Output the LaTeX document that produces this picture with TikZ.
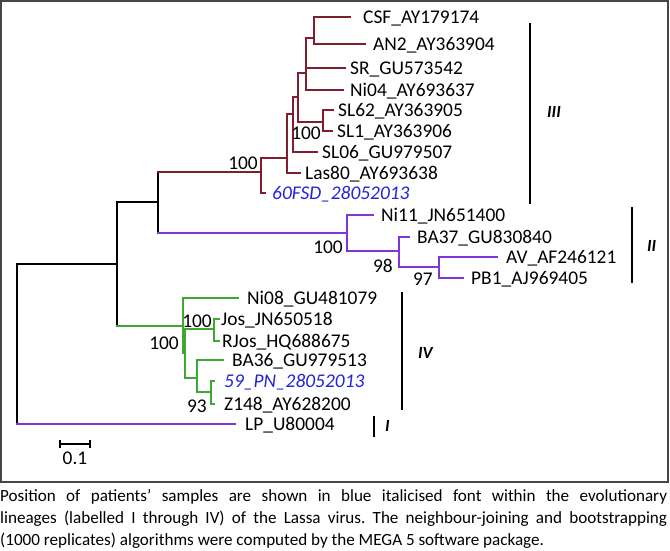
\documentclass[tikz,border=0pt]{standalone}
\usepackage{fontspec}
\setmainfont{Carlito}
\definecolor{mred}{RGB}{128,30,48}
\definecolor{mpur}{RGB}{125,55,215}
\definecolor{mgrn}{RGB}{60,170,50}
\definecolor{mblu}{RGB}{35,35,215}
\definecolor{frm}{RGB}{70,70,70}
\newcommand\tedge[4]{\draw[br,#1] (#3) -- (#3|-#4); \draw[br,#2] (#3|-#4) -- (#4);}
\newcommand\fullline[1]{\hbox to 667pt{\frenchspacing\spaceskip=0.2em plus 1fil\relax #1}}
\begin{document}
\begin{tikzpicture}[x=1pt,y=-1pt,
  br/.style={line width=1.5pt, line cap=rect},
  leaf/.style={anchor=west, inner sep=0pt, text height=12.4pt, text depth=0pt, font=\fontsize{19.4}{21}\selectfont},
  pat/.style={leaf, text=mblu, font=\fontsize{19.4}{21}\selectfont\itshape},
  boot/.style={anchor=east, inner sep=0pt, text height=12.4pt, text depth=0pt, font=\fontsize{19.4}{21}\selectfont},
  clbar/.style={line width=2pt, black},
  cllab/.style={anchor=west, inner sep=0pt, text height=10.5pt, text depth=0pt, font=\fontsize{17}{19}\selectfont\bfseries\itshape},
]
\useasboundingbox (0,0) rectangle (670,551);
\draw[frm, line width=1.5pt] (1,1) rectangle (668,482);

% internal nodes
\coordinate (R) at (17,264);
\coordinate (n8) at (117,264);
\coordinate (n7) at (158,202);
\coordinate (n6) at (261,172);
\coordinate (n5) at (287,158);
\coordinate (n4) at (293,114);
\coordinate (n3) at (298,97);
\coordinate (n2) at (306,73);
\coordinate (n1) at (314,38);
\coordinate (nSL) at (323,122);
\coordinate (m1) at (347,233);
\coordinate (m2) at (399,251);
\coordinate (m3) at (439,267);
\coordinate (k1) at (183,326);
\coordinate (k2) at (185,353);
\coordinate (k3) at (214,329);
\coordinate (k4) at (197,378);
\coordinate (k5) at (211,392);
% leaf ends
\coordinate (eCSF) at (350,17);
\coordinate (eAN2) at (365,44);
\coordinate (eSR) at (345,68);
\coordinate (eNi04) at (343,90);
\coordinate (eSL62) at (333,110);
\coordinate (eSL1) at (332,131);
\coordinate (eSL06) at (317,152);
\coordinate (eLas) at (300,173);
\coordinate (eFSD) at (265,193);
\coordinate (eNi11) at (373,215);
\coordinate (eBA37) at (409,237);
\coordinate (eAV) at (497,257);
\coordinate (ePB1) at (463,278);
\coordinate (eNi08) at (238,298);
\coordinate (eJos) at (219,319);
\coordinate (eRJos) at (219,341);
\coordinate (eBA36) at (223,360);
\coordinate (ePN) at (214,381);
\coordinate (eZ) at (214,404);
\coordinate (eLP) at (235,424);

% edges
\tedge{black}{black}{R}{n8}
\tedge{black}{mpur}{R}{eLP}
\tedge{black}{black}{n8}{n7}
\tedge{black}{mgrn}{n8}{k1}
\tedge{black}{mred}{n7}{n6}
\tedge{black}{mpur}{n7}{m1}
\tedge{mred}{mred}{n6}{n5}
\tedge{mred}{mred}{n6}{eFSD}
\tedge{mred}{mred}{n5}{n4}
\tedge{mred}{mred}{n5}{eLas}
\tedge{mred}{mred}{n4}{n3}
\tedge{mred}{mred}{n4}{eSL06}
\tedge{mred}{mred}{n3}{n2}
\tedge{mred}{mred}{n3}{nSL}
\tedge{mred}{mred}{n2}{n1}
\tedge{mred}{mred}{n2}{eSR}
\tedge{mred}{mred}{n2}{eNi04}
\tedge{mred}{mred}{n1}{eCSF}
\tedge{mred}{mred}{n1}{eAN2}
\tedge{mred}{mred}{nSL}{eSL62}
\tedge{mred}{mred}{nSL}{eSL1}
\tedge{mpur}{mpur}{m1}{eNi11}
\tedge{mpur}{mpur}{m1}{m2}
\tedge{mpur}{mpur}{m2}{eBA37}
\tedge{mpur}{mpur}{m2}{m3}
\tedge{mpur}{mpur}{m3}{eAV}
\tedge{mpur}{mpur}{m3}{ePB1}
\tedge{mgrn}{mgrn}{k1}{eNi08}
\tedge{mgrn}{mgrn}{k1}{k2}
\tedge{mgrn}{mgrn}{k2}{k3}
\tedge{mgrn}{mgrn}{k2}{k4}
\tedge{mgrn}{mgrn}{k3}{eJos}
\tedge{mgrn}{mgrn}{k3}{eRJos}
\tedge{mgrn}{mgrn}{k4}{eBA36}
\tedge{mgrn}{mgrn}{k4}{k5}
\tedge{mgrn}{mgrn}{k5}{ePN}
\tedge{mgrn}{mgrn}{k5}{eZ}

% leaf labels
\node[leaf] (tCSF) at (363,17) {CSF\_AY179174};
\node[leaf] (tAN2) at (373,44) {AN2\_AY363904};
\node[leaf] (tSR) at (350,68) {SR\_GU573542};
\node[leaf] (tNi04) at (350,90) {Ni04\_AY693637};
\node[leaf] (tSL62) at (338,110) {SL62\_AY363905};
\node[leaf] (tSL1) at (337,131) {SL1\_AY363906};
\node[leaf] (tSL06) at (322,152) {SL06\_GU979507};
\node[leaf] (tLas) at (305,173) {Las80\_AY693638};
\node[pat] (tFSD) at (272,193) {60FSD\_28052013};
\node[leaf] (tNi11) at (381,215) {Ni11\_JN651400};
\node[leaf] (tBA37) at (417,237) {BA37\_GU830840};
\node[leaf] (tAV) at (506,257) {AV\_AF246121};
\node[leaf] (tPB1) at (471,278) {PB1\_AJ969405};
\node[leaf] (tNi08) at (247,298) {Ni08\_GU481079};
\node[leaf] (tJos) at (221,319) {Jos\_JN650518};
\node[leaf] (tRJos) at (222,341) {RJos\_HQ688675};
\node[leaf] (tBA36) at (232,360) {BA36\_GU979513};
\node[pat] (tPN) at (224,381) {59\_PN\_28052013};
\node[leaf] (tZ) at (224,404) {Z148\_AY628200};
\node[leaf] (tLP) at (245,424) {LP\_U80004};

% bootstrap values
\node[boot] (b1) at (258,163) {100};
\node[boot] (b2) at (321,133) {100};
\node[boot] (b3) at (343,247) {100};
\node[boot] (b4) at (393,266) {98};
\node[boot] (b5) at (433,279) {97};
\node[boot] (b6) at (212,321) {100};
\node[boot] (b7) at (179,343) {100};
\node[boot] (b8) at (207,406) {93};

% clade bars
\coordinate (c3a) at (530,23); \coordinate (c3b) at (530,204);
\coordinate (c2a) at (632,207); \coordinate (c2b) at (632,283);
\coordinate (c4a) at (402,292); \coordinate (c4b) at (402,410);
\coordinate (c1a) at (374,416); \coordinate (c1b) at (374,437);
\draw[clbar] (c3a) -- (c3b);
\draw[clbar] (c2a) -- (c2b);
\draw[clbar] (c4a) -- (c4b);
\draw[clbar] (c1a) -- (c1b);
\node[cllab] (l3) at (547,112) {III};
\node[cllab] (l2) at (647,246) {II};
\node[cllab] (l4) at (418,353) {IV};
\node[cllab] (l1) at (385,426) {I};

% scale bar
\coordinate (sbL) at (60,444);
\coordinate (sbR) at (90,444);
\draw[line width=1.5pt] (sbL) -- (sbR);
\draw[line width=1.5pt] ([yshift=-4pt]sbL) -- ([yshift=4pt]sbL);
\draw[line width=1.5pt] ([yshift=-4pt]sbR) -- ([yshift=4pt]sbR);
\node[boot, anchor=center] (sb) at (75,458) {0.1};

% caption
\node[anchor=north west, inner sep=0pt, font=\fontsize{17.1}{22}\selectfont] (cap) at (0,489)
{\vbox{\hsize=667pt
\fullline{Position of patients’ samples are shown in blue italicised font within the evolutionary}
\fullline{lineages (labelled I through IV) of the Lassa virus. The neighbour-joining and bootstrapping}
\hbox{(1000 replicates) algorithms were computed by the MEGA 5 software package.}}};
\end{tikzpicture}
\end{document}
